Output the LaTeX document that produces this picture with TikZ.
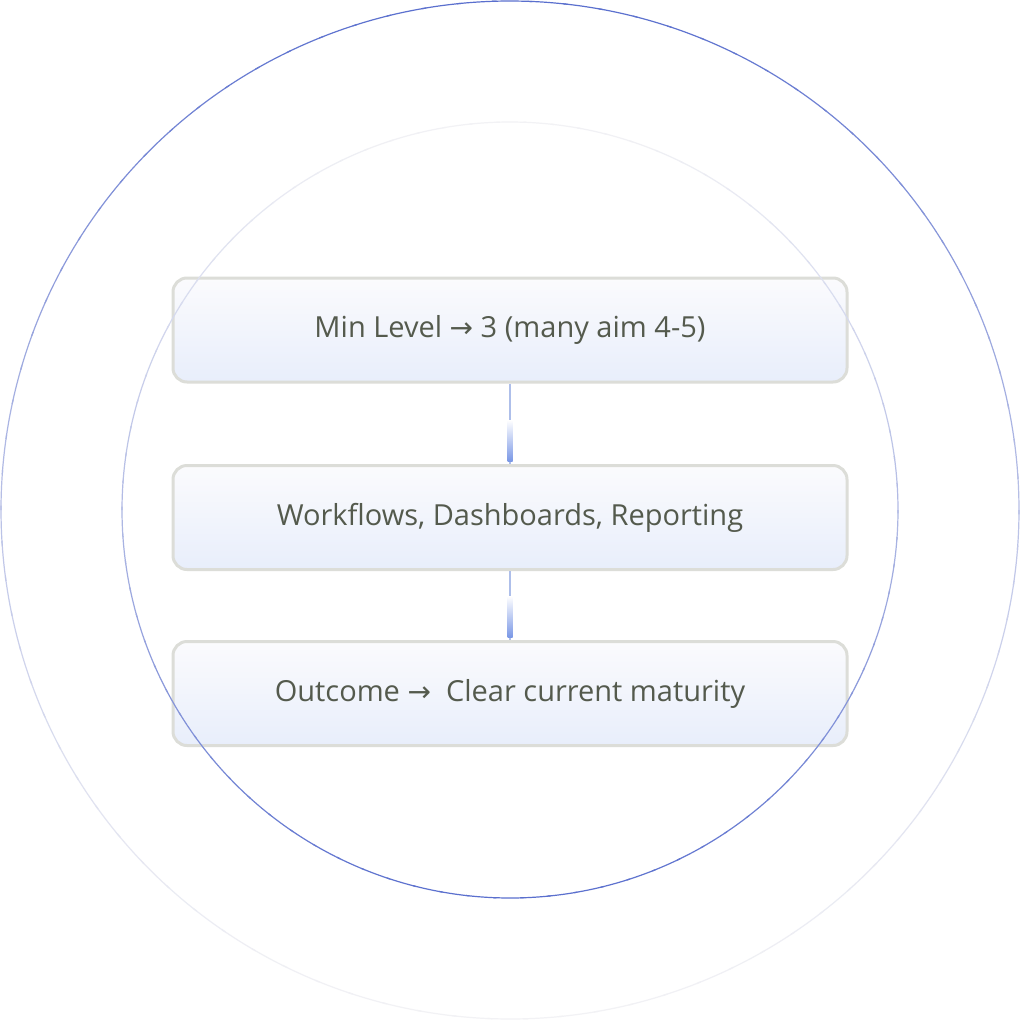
\documentclass[tikz,border=0pt]{standalone}
\usepackage{fontspec}
\setmainfont{Open Sans}
\newfontfamily\arrowfont{DejaVu Sans}
\usetikzlibrary{calc}
\definecolor{circblue}{HTML}{5A6FCE}
\definecolor{circfaint}{HTML}{F2F2F5}
\definecolor{boxborder}{HTML}{DCDDD8}
\definecolor{boxbottom}{HTML}{E8EEFB}
\definecolor{boxtop}{HTML}{FBFBFD}
\definecolor{txt}{HTML}{545A4D}
\definecolor{linkthin}{HTML}{AEBFEA}
\definecolor{linkbar}{HTML}{7B98E6}
\begin{document}
\begin{tikzpicture}[x=1pt,y=-1pt,
  stepbox/.style={draw=boxborder, line width=3pt, rounded corners=14pt,
    minimum width=674pt, minimum height=104pt, inner sep=0pt,
    top color=boxtop, bottom color=boxbottom, text=txt,
    font=\fontsize{29}{34}\selectfont},
  linkline/.style={draw=linkthin, line width=2pt},
  linkbar/.style={top color=white, bottom color=linkbar, draw=none},
  ring/.style={line width=1.2pt},
  arr/.style={}]
\useasboundingbox (0,0) rectangle (1020,1020);
\fill[white] (0,0) rectangle (1020,1020);

\node[stepbox] (b1) at (510,330) {Min Level {\arrowfont\fontsize{28}{34}\selectfont →} 3 (many aim 4-5)};
\node[stepbox] (b2) at (510,517.5) {Workflows, Dashboards, Reporting};
\node[stepbox] (b3) at (510,693.5) {Outcome {\arrowfont\fontsize{28}{34}\selectfont →}\ \ Clear current maturity};

\draw[linkline] (b1.south) -- (b2.north);
\shade[linkbar] ($(b2.north)+(-2.5,-44)$) rectangle ($(b2.north)+(2.5,-3)$);
\draw[linkline] (b2.south) -- (b3.north);
\shade[linkbar] ($(b3.north)+(-2.5,-44)$) rectangle ($(b3.north)+(2.5,-3)$);

\foreach \a in {0,4,...,356}{
  \pgfmathsetmacro\t{100*((1-sin(\a+2))/2)^1.4}
  \draw[ring, color=circblue!\t!circfaint] (510,510) ++(\a:509) arc[start angle=\a, end angle=\a+4.5, radius=509];
  \pgfmathsetmacro\u{100*((1+sin(\a+2))/2)^1.2}
  \draw[ring, color=circblue!\u!circfaint] (510,510) ++(\a:388) arc[start angle=\a, end angle=\a+4.5, radius=388];
}
\end{tikzpicture}
\end{document}
